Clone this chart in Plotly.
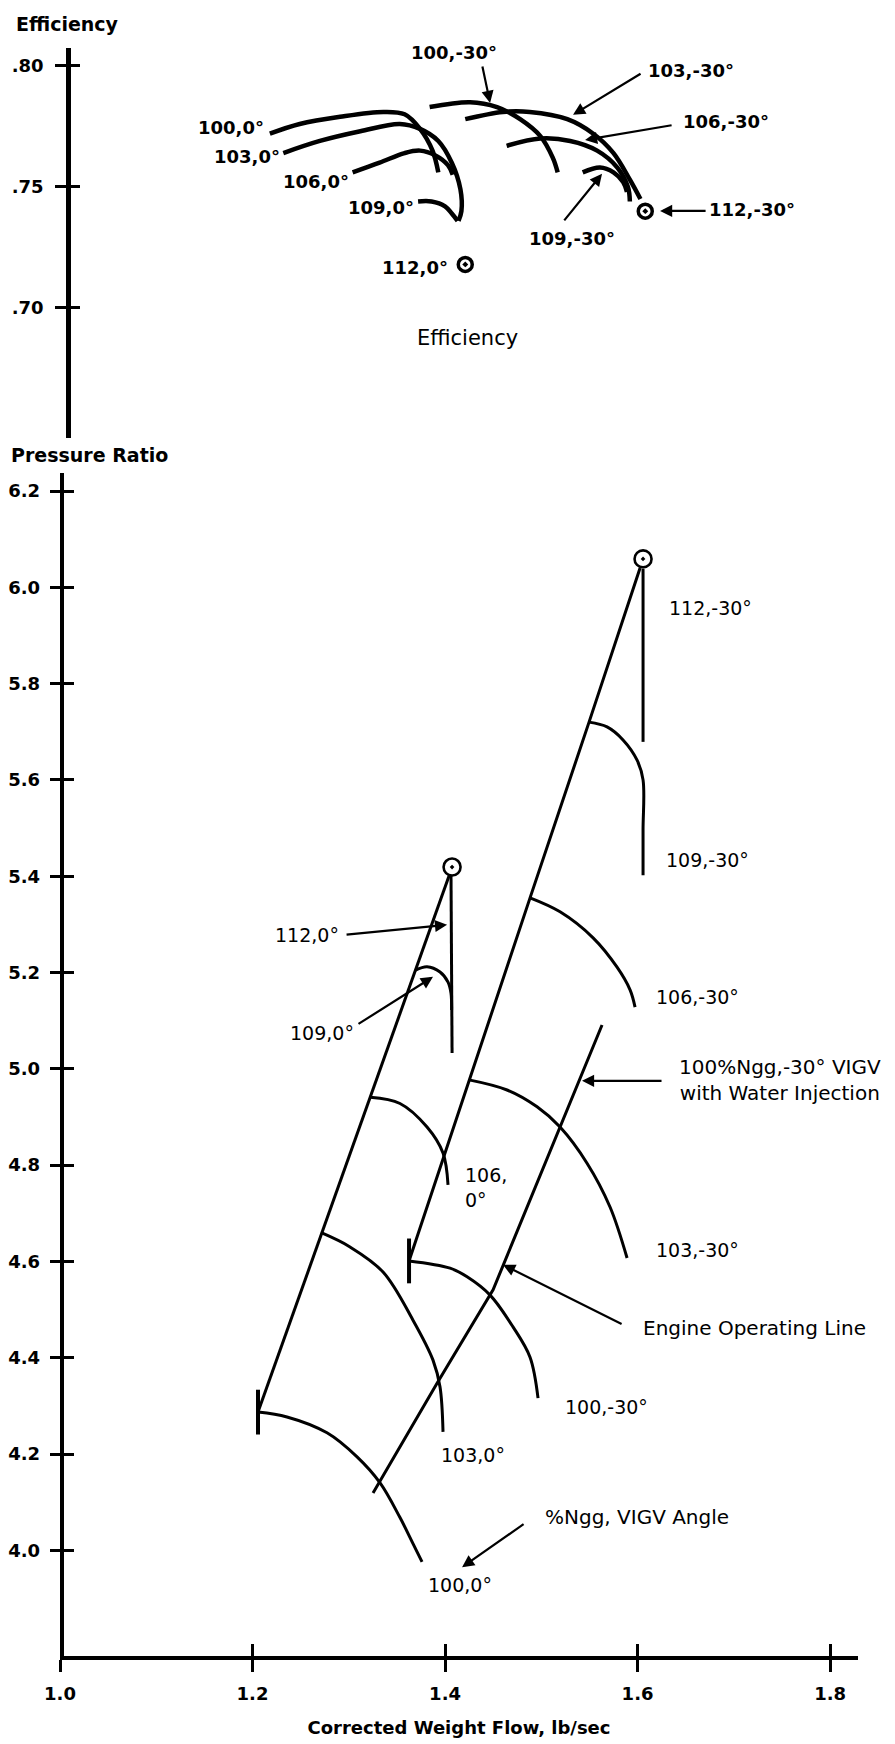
import plotly.graph_objects as go

# ------------------------------------------------------------------ data
x_ticks = [1.0, 1.2, 1.4, 1.6, 1.8]
x_tick_labels = ["1.0", "1.2", "1.4", "1.6", "1.8"]
eff_ticks = [0.70, 0.75, 0.80]
eff_tick_labels = [".70", ".75", ".80"]
pr_ticks = [4.0, 4.2, 4.4, 4.6, 4.8, 5.0, 5.2, 5.4, 5.6, 5.8, 6.0, 6.2]
pr_tick_labels = ["4.0", "4.2", "4.4", "4.6", "4.8", "5.0", "5.2", "5.4", "5.6", "5.8", "6.0", "6.2"]

# Efficiency vs corrected weight flow, VIGV 0°
eff_wf_100_0 = [1.218, 1.249, 1.291, 1.336, 1.358, 1.374, 1.387, 1.393]
eff_100_0 = [0.772, 0.776, 0.779, 0.781, 0.780, 0.774, 0.765, 0.756]
eff_wf_103_0 = [1.232, 1.270, 1.312, 1.353, 1.374, 1.393, 1.407, 1.416, 1.417, 1.414]
eff_103_0 = [0.764, 0.769, 0.773, 0.776, 0.774, 0.769, 0.760, 0.749, 0.740, 0.736]
eff_wf_106_0 = [1.304, 1.332, 1.358, 1.374, 1.390, 1.403, 1.408]
eff_106_0 = [0.756, 0.760, 0.764, 0.765, 0.763, 0.759, 0.755]
eff_wf_109_0 = [1.372, 1.386, 1.400, 1.407, 1.413]
eff_109_0 = [0.744, 0.744, 0.742, 0.739, 0.736]

# Efficiency vs corrected weight flow, VIGV -30°
eff_wf_100_m30 = [1.384, 1.426, 1.454, 1.478, 1.499, 1.512, 1.517]
eff_100_m30 = [0.783, 0.785, 0.783, 0.778, 0.771, 0.762, 0.756]
eff_wf_103_m30 = [1.421, 1.460, 1.488, 1.527, 1.554, 1.575, 1.592, 1.603]
eff_103_m30 = [0.778, 0.781, 0.781, 0.778, 0.772, 0.764, 0.753, 0.745]
eff_wf_106_m30 = [1.464, 1.499, 1.530, 1.558, 1.579, 1.590, 1.592]
eff_106_m30 = [0.767, 0.770, 0.769, 0.765, 0.758, 0.750, 0.744]
eff_wf_109_m30 = [1.543, 1.561, 1.575, 1.585, 1.589]
eff_109_m30 = [0.756, 0.758, 0.756, 0.752, 0.748]

# 112 % points (efficiency)
eff_wf_112 = [1.421, 1.608]
eff_112 = [0.718, 0.740]

# Pressure ratio map, VIGV -30°
surge_wf_m30 = [1.6026, 1.5496, 1.4883, 1.4249, 1.3626]
surge_pr_m30 = [6.040, 5.720, 5.355, 4.977, 4.601]
pr_wf_112_m30 = [1.6057, 1.6057]
pr_112_m30 = [6.038, 5.679]
pr_wf_109_m30 = [1.5496, 1.5683, 1.5849, 1.5995, 1.6057, 1.6057, 1.6057]
pr_109_m30 = [5.720, 5.710, 5.683, 5.641, 5.600, 5.496, 5.402]
pr_wf_106_m30 = [1.4883, 1.5195, 1.5538, 1.5787, 1.5922, 1.5974]
pr_106_m30 = [5.355, 5.326, 5.272, 5.211, 5.164, 5.128]
pr_wf_103_m30 = [1.4249, 1.4644, 1.4956, 1.5195, 1.5475, 1.5714, 1.5891]
pr_103_m30 = [4.977, 4.956, 4.921, 4.879, 4.804, 4.713, 4.607]
pr_wf_100_m30 = [1.3626, 1.4052, 1.4229, 1.4468, 1.4706, 1.4883, 1.4966]
pr_100_m30 = [4.601, 4.586, 4.568, 4.530, 4.464, 4.401, 4.316]

# Pressure ratio map, VIGV 0°
surge_wf_0 = [1.4042, 1.3694, 1.3224, 1.2720, 1.2057]
surge_pr_0 = [5.401, 5.205, 4.941, 4.659, 4.287]
pr_wf_112_0 = [1.4062, 1.4073]
pr_112_0 = [5.401, 5.033]
pr_wf_109_0 = [1.3694, 1.3813, 1.3948, 1.4031, 1.4062, 1.4068]
pr_109_0 = [5.205, 5.212, 5.201, 5.180, 5.157, 5.122]
pr_wf_106_0 = [1.3224, 1.3532, 1.3813, 1.3979, 1.4031]
pr_106_0 = [4.941, 4.928, 4.879, 4.825, 4.759]
pr_wf_103_0 = [1.2720, 1.3013, 1.3356, 1.3667, 1.3875, 1.3948, 1.3979]
pr_103_0 = [4.659, 4.630, 4.578, 4.478, 4.395, 4.339, 4.246]
pr_wf_100_0 = [1.2057, 1.2358, 1.2774, 1.3086, 1.3325, 1.3532, 1.3667, 1.3761]
pr_100_0 = [4.287, 4.277, 4.244, 4.194, 4.140, 4.068, 4.014, 3.976]

# 112 % points (pressure ratio)
pr_wf_112 = [1.4073, 1.6057]
pr_112 = [5.419, 6.059]

# Engine operating line
op_wf = [1.3252, 1.3917, 1.4499, 1.5195, 1.5631]
op_pr = [4.119, 4.347, 4.541, 4.879, 5.091]

# ------------------------------------------------------------------ style
FONT = "DejaVu Sans"
BLACK = "black"

fig = go.Figure()


def curve(x, y, yaxis, width, shape="spline"):
    fig.add_trace(go.Scatter(
        x=x, y=y, xaxis="x", yaxis=yaxis, mode="lines",
        line=dict(color=BLACK, width=width, shape=shape, smoothing=1.0),
        hoverinfo="skip", showlegend=False))


# efficiency curves
for xs, ys in [(eff_wf_100_0, eff_100_0), (eff_wf_103_0, eff_103_0),
               (eff_wf_106_0, eff_106_0), (eff_wf_109_0, eff_109_0),
               (eff_wf_100_m30, eff_100_m30), (eff_wf_103_m30, eff_103_m30),
               (eff_wf_106_m30, eff_106_m30), (eff_wf_109_m30, eff_109_m30)]:
    curve(xs, ys, "y", 4.5)

fig.add_trace(go.Scatter(
    x=eff_wf_112, y=eff_112, xaxis="x", yaxis="y", mode="markers",
    marker=dict(symbol="circle-open-dot", size=14, color=BLACK,
                line=dict(color=BLACK, width=3.5)),
    hoverinfo="skip", showlegend=False))

# pressure-ratio speed lines
for xs, ys in [(pr_wf_112_m30, pr_112_m30), (pr_wf_109_m30, pr_109_m30),
               (pr_wf_106_m30, pr_106_m30), (pr_wf_103_m30, pr_103_m30),
               (pr_wf_100_m30, pr_100_m30),
               (pr_wf_112_0, pr_112_0), (pr_wf_109_0, pr_109_0),
               (pr_wf_106_0, pr_106_0), (pr_wf_103_0, pr_103_0),
               (pr_wf_100_0, pr_100_0)]:
    curve(xs, ys, "y2", 3)

# surge lines with barb at the end
for xs, ys in [(surge_wf_m30, surge_pr_m30), (surge_wf_0, surge_pr_0)]:
    n = len(xs)
    fig.add_trace(go.Scatter(
        x=xs, y=ys, xaxis="x", yaxis="y2", mode="lines+markers",
        line=dict(color=BLACK, width=3),
        marker=dict(symbol="line-ns-open", size=[0] * (n - 1) + [32], color=BLACK,
                    opacity=1, line=dict(color=BLACK, width=4)),
        hoverinfo="skip", showlegend=False))

# engine operating line
curve(op_wf, op_pr, "y2", 3, shape="linear")

fig.add_trace(go.Scatter(
    x=pr_wf_112, y=pr_112, xaxis="x", yaxis="y2", mode="markers",
    marker=dict(symbol="circle-open-dot", size=17, color=BLACK,
                line=dict(color=BLACK, width=2.6)),
    hoverinfo="skip", showlegend=False))

# empty traces so the overlay axes (inner half of the "+" ticks) get drawn
for xa, ya in [("x", "y3"), ("x", "y4"), ("x2", "y2")]:
    fig.add_trace(go.Scatter(x=[None], y=[None], xaxis=xa, yaxis=ya,
                             mode="lines", hoverinfo="skip", showlegend=False))


# ------------------------------------------------------------------ annotations
def label(text, x, y, yref, bold=False, size=19, xanchor="center", align="center"):
    return dict(text=text, x=x, y=y, xref="x", yref=yref, showarrow=False,
                xanchor=xanchor, yanchor="middle", align=align,
                font=dict(family=FONT, size=size, color=BLACK,
                          weight="bold" if bold else "normal"))


def arrow(x, y, yref, ax, ay):
    return dict(text="", x=x, y=y, xref="x", yref=yref, ax=ax, ay=ay,
                showarrow=True, arrowhead=2, arrowsize=1.1, arrowwidth=2.2,
                arrowcolor=BLACK, standoff=0, startstandoff=0)


ann = []
# efficiency labels
ann += [
    label(speed_lbl, x, y, "y", bold=True, size=18)
    for speed_lbl, x, y in [
        ("100,0°", 1.1777, 0.7744), ("103,0°", 1.1943, 0.7624),
        ("106,0°", 1.2660, 0.7521), ("109,0°", 1.3335, 0.7413),
        ("112,0°", 1.3688, 0.7169), ("100,-30°", 1.4094, 0.8054),
        ("103,-30°", 1.6556, 0.7983), ("106,-30°", 1.6919, 0.7769),
        ("109,-30°", 1.5319, 0.7289), ("112,-30°", 1.7190, 0.7405)]
]
ann.append(label("Efficiency", 1.4229, 0.6876, "y", size=21))
ann += [arrow(1.4468, 0.7847, "y", -8, -38),
        arrow(1.5330, 0.7798, "y", 69, -42),
        arrow(1.5455, 0.7694, "y", 88, -15),
        arrow(1.5631, 0.7554, "y", -39, 48),
        arrow(1.6234, 0.7401, "y", 47, 0)]

# pressure ratio labels
ann += [
    label("Pressure Ratio", 1.4229, 6.2748, "y2", size=21),
    label("112,-30°", 1.6753, 5.957, "y2"),
    label("109,-30°", 1.6722, 5.434, "y2"),
    label("106,-30°", 1.6618, 5.149, "y2"),
    label("100%Ngg,-30° VIGV<br>with Water Injection", 1.748, 4.977, "y2", size=20),
    label("103,-30°", 1.6618, 4.624, "y2"),
    label("106,<br>0°", 1.4187, 4.7545, "y2", xanchor="left", align="left"),
    label("Engine Operating Line", 1.721, 4.4617, "y2", size=20),
    label("100,-30°", 1.5673, 4.2976, "y2"),
    label("103,0°", 1.4291, 4.198, "y2"),
    label("%Ngg, VIGV Angle", 1.5995, 4.069, "y2", size=20),
    label("100,0°", 1.4156, 3.928, "y2"),
    label("112,0°", 1.2566, 5.278, "y2"),
    label("109,0°", 1.2722, 5.0743, "y2"),
]
ann += [arrow(1.4021, 5.299, "y2", -102, 10),
        arrow(1.3875, 5.191, "y2", -76, 48),
        arrow(1.5423, 4.975, "y2", 81, 0),
        arrow(1.4603, 4.593, "y2", 120, 60),
        arrow(1.4177, 3.965, "y2", 63, -44)]

# axis titles drawn at the top of each axis
ann += [
    dict(text="Efficiency", x=-0.0576, y=1.0149, xref="paper", yref="paper",
         xanchor="left", yanchor="middle", showarrow=False,
         font=dict(family=FONT, size=19, color=BLACK, weight="bold")),
    dict(text="Pressure Ratio", x=-0.0639, y=0.7469, xref="paper", yref="paper",
         xanchor="left", yanchor="middle", showarrow=False,
         font=dict(family=FONT, size=19, color=BLACK, weight="bold")),
]

tickfont = dict(family=FONT, size=18, color=BLACK, weight="bold")
X_RANGE = [1.0, 1.829]
EFF_RANGE = [0.6463, 0.8074]
PR_RANGE = [3.7805, 6.2374]
EFF_DOMAIN = [0.7575, 1.0]
PR_DOMAIN = [0.0, 0.7357]

fig.update_layout(
    width=895, height=1744,
    margin=dict(l=60, r=37, t=48, b=88, autoexpand=False),
    paper_bgcolor="white", plot_bgcolor="white",
    font=dict(family=FONT, color=BLACK),
    showlegend=False,
    annotations=ann,
    xaxis=dict(domain=[0, 1], range=X_RANGE, anchor="y2", automargin=False,
               showline=True, linecolor=BLACK, linewidth=4,
               ticks="outside", ticklen=12, tickwidth=3, tickcolor=BLACK,
               tickvals=x_ticks, ticktext=x_tick_labels, tickfont=tickfont,
               ticklabelstandoff=6,
               showgrid=False, zeroline=False,
               title=dict(text="Corrected Weight Flow, lb/sec", standoff=20,
                          font=dict(family=FONT, size=18, color=BLACK, weight="bold"))),
    xaxis2=dict(overlaying="x", range=X_RANGE, anchor="y2", automargin=False,
                showline=False, ticks="inside", ticklen=12, tickwidth=3,
                tickcolor=BLACK, tickvals=x_ticks, showticklabels=False,
                showgrid=False, zeroline=False),
    yaxis=dict(domain=EFF_DOMAIN, range=EFF_RANGE, anchor="free", position=0.010,
               automargin=False,
               showline=True, linecolor=BLACK, linewidth=4.5,
               ticks="outside", ticklen=11, tickwidth=3, tickcolor=BLACK,
               tickvals=eff_ticks, ticktext=eff_tick_labels, tickfont=tickfont,
               ticklabelstandoff=8, showgrid=False, zeroline=False),
    yaxis3=dict(overlaying="y", domain=EFF_DOMAIN, range=EFF_RANGE,
                anchor="free", position=0.010, showline=False, automargin=False,
                ticks="inside", ticklen=11, tickwidth=3, tickcolor=BLACK,
                tickvals=eff_ticks, showticklabels=False,
                showgrid=False, zeroline=False),
    yaxis2=dict(domain=PR_DOMAIN, range=PR_RANGE, anchor="free", position=0.003,
                automargin=False,
                showline=True, linecolor=BLACK, linewidth=3.5,
                ticks="outside", ticklen=11, tickwidth=3, tickcolor=BLACK,
                tickvals=pr_ticks, ticktext=pr_tick_labels, tickfont=tickfont,
                ticklabelstandoff=6, showgrid=False, zeroline=False),
    yaxis4=dict(overlaying="y2", domain=PR_DOMAIN, range=PR_RANGE,
                anchor="free", position=0.003, showline=False, automargin=False,
                ticks="inside", ticklen=11, tickwidth=3, tickcolor=BLACK,
                tickvals=pr_ticks, showticklabels=False,
                showgrid=False, zeroline=False),
)

fig.write_html("out.html", config={"displayModeBar": False},
               post_script="document.body.style.margin='0';")
